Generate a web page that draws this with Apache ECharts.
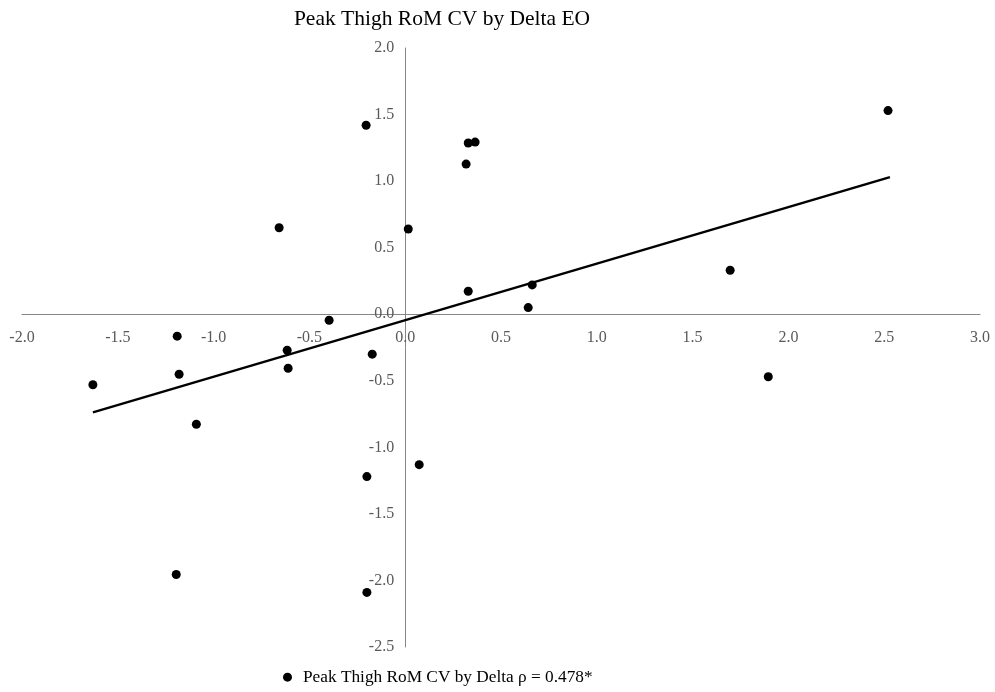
<!DOCTYPE html>
<html>
<head>
    <title>Peak Thigh RoM CV by Delta EO</title>
    <script src="https://cdn.jsdelivr.net/npm/echarts@6/dist/echarts.min.js"></script>
    <style>
        body { margin: 0; background: #fff; }
        #chart { width: 995px; height: 692px; }
    </style>
</head>
<body>
<div id="chart"></div>

<script>
    // scatter points (Delta EO vs Peak Thigh RoM CV)
    var deltaX = [-1.63, -1.19, -1.18, -1.09, -1.195, -0.658, -0.616, -0.611, -0.397, -0.204, -0.172, -0.2, -0.2,
                  0.016, 0.073, 0.318, 0.329, 0.365, 0.329, 0.663, 0.642, 1.696, 1.895, 2.52];
    var thighY = [-0.53, -0.165, -0.451, -0.827, -1.955, 0.65, -0.271, -0.406, -0.045, 1.42, -0.30, -1.22, -2.09,
                  0.64, -1.13, 1.128, 1.286, 1.293, 0.173, 0.22, 0.05, 0.33, -0.47, 1.53];

    // linear trend line end points
    var trendX = [-1.63, 2.53];
    var trendY = [-0.737, 1.03];

    var seriesName = 'Peak Thigh RoM CV by Delta \u03c1 = 0.478*';

    var points = deltaX.map(function (x, i) { return [x, thighY[i]]; });
    var trend = trendX.map(function (x, i) { return [x, trendY[i]]; });

    var chart = echarts.init(document.getElementById('chart'));
    var font = '"Liberation Serif", "DejaVu Serif", serif';

    // grid box in pixels; the axes cross at (0, 0) inside it
    var gLeft = 22, gRight = 15, gTop = 48, gBottom = 45;
    var plotW = 995 - gLeft - gRight, plotH = 692 - gTop - gBottom;
    var xMin = -2, xMax = 3, yMin = -2.5, yMax = 2;
    // move the axes in from the grid edges so they sit on zero
    var xOffset = -plotH * (0 - yMin) / (yMax - yMin);
    var yOffset = -plotW * (0 - xMin) / (xMax - xMin);

    chart.setOption({
        animation: false,
        title: {
            text: 'Peak Thigh RoM CV by Delta EO',
            left: 437,
            textAlign: 'center',
            top: -2,
            textStyle: { fontFamily: font, fontSize: 21.5, fontWeight: 'normal', color: '#000' }
        },
        legend: {
            data: [{ name: seriesName, icon: 'circle' }],
            left: 278,
            top: 659,
            itemWidth: 9,
            itemHeight: 9,
            textStyle: { fontFamily: font, fontSize: 17.3, color: '#000', padding: [0, 0, 0, 6] }
        },
        grid: { left: gLeft, right: gRight, top: gTop, bottom: gBottom, containLabel: false, outerBoundsMode: 'none' },
        xAxis: {
            type: 'value',
            min: xMin, max: xMax, interval: 0.5,
            position: 'bottom',
            offset: xOffset,
            axisLine: { onZero: false, lineStyle: { color: '#868686', width: 1 } },
            axisTick: { show: false },
            splitLine: { show: false },
            axisLabel: {
                fontFamily: font, fontSize: 16, color: '#595959', margin: 11,
                formatter: function (v) { return v.toFixed(1); }
            }
        },
        yAxis: {
            type: 'value',
            min: yMin, max: yMax, interval: 0.5,
            position: 'left',
            offset: yOffset,
            axisLine: { onZero: false, lineStyle: { color: '#868686', width: 1 } },
            axisTick: { show: false },
            splitLine: { show: false },
            axisLabel: {
                fontFamily: font, fontSize: 16, color: '#595959', margin: 11,
                formatter: function (v) { return v.toFixed(1); }
            }
        },
        series: [{
            name: seriesName,
            type: 'scatter',
            data: points,
            symbol: 'circle',
            symbolSize: 9,
            itemStyle: { color: '#000', opacity: 1 },
            z: 3
        }, {
            name: 'trend',
            type: 'line',
            data: trend,
            showSymbol: false,
            lineStyle: { color: '#000', width: 2.5 },
            z: 2
        }]
    });
</script>
</body>
</html>
